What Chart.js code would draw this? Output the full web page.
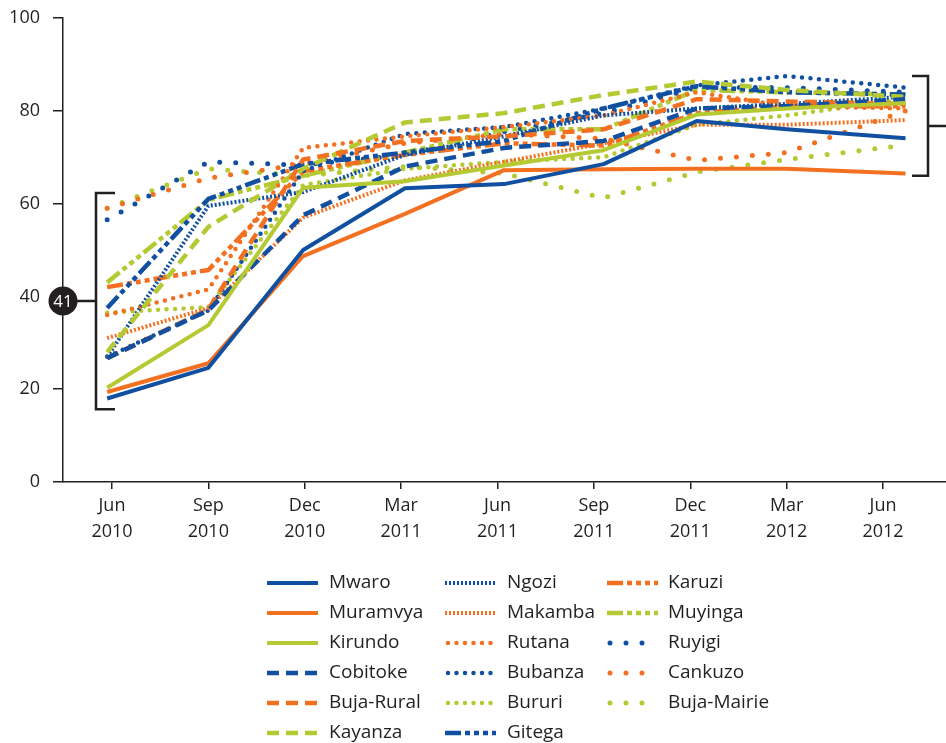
<!DOCTYPE html>
<html>
<head>
<meta charset="utf-8">
<script src="https://cdn.jsdelivr.net/npm/chart.js@4"></script>
<style>
  html, body { margin: 0; padding: 0; background: #fff; }
  canvas { display: block; }
</style>
</head>
<body>
<canvas id="chart" width="946" height="743"></canvas>
<script>
// survey rounds (months after Jun 2010, where each round sits on the axis)
const surveyMonths = [-0.15, 3, 5.95, 9.12, 12.2, 15.3, 18.2, 21.0, 24.7];
const tickMonths = [0, 3, 6, 9, 12, 15, 18, 21, 24];
const tickLabels = [
  ['Jun', '2010'], ['Sep', '2010'], ['Dec', '2010'], ['Mar', '2011'], ['Jun', '2011'],
  ['Sep', '2011'], ['Dec', '2011'], ['Mar', '2012'], ['Jun', '2012']
];

const mwaro      = [18, 24.6, 50, 63.3, 64.2, 68.5, 77.8, 76, 74.1];
const muramvya   = [19.4, 25.6, 48.7, 57.8, 67.2, 67.4, 67.5, 67.5, 66.5];
const kirundo    = [20.3, 33.8, 63.4, 64.8, 68.2, 71.5, 79.2, 80.5, 81.7];
const cobitoke   = [26.7, 37, 57.5, 68, 72, 73.5, 80.5, 81, 82.5];
const bujaRural  = [26.7, 37.2, 69.5, 73.5, 74.5, 76, 82.5, 82, 81.5];
const kayanza    = [28, 55, 67.5, 77.5, 79.5, 83.4, 86.3, 84.5, 83];
const ngozi      = [27, 59.5, 62.5, 70.5, 74.5, 79, 80.5, 81.5, 83];
const makamba    = [31, 37.5, 57, 65, 69, 73, 77, 77, 78];
const rutana     = [36, 41.5, 72, 74.5, 76.5, 79, 84, 81, 80.5];
const bubanza    = [27, 37, 67, 75, 76.5, 80.5, 85.5, 87.5, 85];
const bururi     = [36.5, 37.7, 64, 67.5, 69, 70, 77, 79, 82.5];
const gitega     = [37.5, 61, 68.5, 71, 73.5, 80.5, 85.3, 84, 83.5];
const karuzi     = [42, 45.7, 67, 70.5, 73, 72.5, 79.5, 81, 81];
const muyinga    = [43, 60.8, 66, 71, 76, 76, 84.5, 84, 83.5];
const ruyigi     = [56.5, 69, 68.3, 70.5, 75.5, 79.5, 85, 85, 84];
const cankuzo    = [59, 65.5, 68.5, 73, 75, 74, 69.3, 71, 80];
const bujaMairie = [59, 67.5, 66, 68, 66.5, 61.2, 66.8, 69.5, 72.6];

// bracket annotations (value ranges on the y axis)
const leftBracket = { from: 15.7, to: 62.3, label: '41' };
const rightBracket = { from: 66, to: 87.5 };

const BLUE = '#1150a0';
const ORANGE = '#f37021';
const GREEN = '#b5c932';
const INK = '#231f20';
const FONT = '"Open Sans", sans-serif';

const STYLES = {
  solid:   { dash: [], cap: 'butt', width: 4 },
  dash:    { dash: [12, 7], cap: 'butt', width: 4.5 },
  dashdot: { dash: [16, 4, 5, 4, 5, 4, 5, 4], cap: 'butt', width: 4.5 },
  dense:   { dash: [2, 2], cap: 'butt', width: 4 },
  medium:  { dash: [0, 8.5], cap: 'round', width: 4.5 },
  sparse:  { dash: [0, 16], cap: 'round', width: 5 },
};

const series = [
  ['Mwaro', mwaro, BLUE, 'solid'],
  ['Muramvya', muramvya, ORANGE, 'solid'],
  ['Kirundo', kirundo, GREEN, 'solid'],
  ['Cobitoke', cobitoke, BLUE, 'dash'],
  ['Buja-Rural', bujaRural, ORANGE, 'dash'],
  ['Kayanza', kayanza, GREEN, 'dash'],
  ['Ngozi', ngozi, BLUE, 'dense'],
  ['Makamba', makamba, ORANGE, 'dense'],
  ['Rutana', rutana, ORANGE, 'medium'],
  ['Bubanza', bubanza, BLUE, 'medium'],
  ['Bururi', bururi, GREEN, 'medium'],
  ['Gitega', gitega, BLUE, 'dashdot'],
  ['Karuzi', karuzi, ORANGE, 'dashdot'],
  ['Muyinga', muyinga, GREEN, 'dashdot'],
  ['Ruyigi', ruyigi, BLUE, 'sparse'],
  ['Cankuzo', cankuzo, ORANGE, 'sparse'],
  ['Buja-Mairie', bujaMairie, GREEN, 'sparse'],
];

const datasets = series.map(([label, values, color, style]) => ({
  label,
  data: values.map((v, i) => ({ x: surveyMonths[i], y: v })),
  borderColor: color,
  backgroundColor: color,
  borderWidth: STYLES[style].width,
  borderDash: STYLES[style].dash,
  borderCapStyle: STYLES[style].cap,
  borderJoinStyle: 'round',
  pointRadius: 0,
  tension: 0,
  fill: false,
}));

// legend in three columns, filled top to bottom
const columnLegend = {
  id: 'columnLegend',
  afterDraw(chart) {
    const ctx = chart.ctx;
    const colX = [267, 445, 607];
    const textX = [329, 507, 668];
    ctx.save();
    chart.data.datasets.forEach((ds, i) => {
      const col = Math.floor(i / 6), row = i % 6;
      const y = 583 + row * 30;
      ctx.beginPath();
      ctx.setLineDash(ds.borderDash);
      ctx.lineCap = ds.borderCapStyle;
      ctx.lineWidth = ds.borderWidth;
      ctx.strokeStyle = ds.borderColor;
      ctx.moveTo(colX[col] + (ds.borderCapStyle === 'round' ? 3 : 0), y);
      ctx.lineTo(colX[col] + 51, y);
      ctx.stroke();
      ctx.setLineDash([]);
      ctx.fillStyle = INK;
      ctx.font = '19px ' + FONT;
      ctx.textBaseline = 'middle';
      ctx.textAlign = 'left';
      ctx.fillText(ds.label, textX[col], y);
    });
    ctx.restore();
  }
};

const brackets = {
  id: 'brackets',
  afterDraw(chart) {
    const { ctx, chartArea, scales: { y } } = chart;
    ctx.save();
    ctx.strokeStyle = INK;
    ctx.lineWidth = 2.5;
    ctx.setLineDash([]);

    // left bracket with the circled value
    let top = y.getPixelForValue(leftBracket.to);
    let bot = y.getPixelForValue(leftBracket.from);
    let mid = (top + bot) / 2;
    const lx = chartArea.left + 33;
    ctx.beginPath();
    ctx.moveTo(lx + 19, top); ctx.lineTo(lx, top); ctx.lineTo(lx, bot); ctx.lineTo(lx + 19, bot);
    ctx.moveTo(lx, mid); ctx.lineTo(chartArea.left, mid);
    ctx.stroke();
    ctx.beginPath();
    ctx.fillStyle = INK;
    ctx.arc(chartArea.left, mid, 14.5, 0, Math.PI * 2);
    ctx.fill();
    ctx.fillStyle = '#fff';
    ctx.font = '17px ' + FONT;
    ctx.textAlign = 'center';
    ctx.textBaseline = 'middle';
    ctx.fillText(leftBracket.label, chartArea.left, mid + 1);

    // right bracket
    top = y.getPixelForValue(rightBracket.to);
    bot = y.getPixelForValue(rightBracket.from);
    mid = (top + bot) / 2;
    const rx = chartArea.right - 18;
    ctx.beginPath();
    ctx.moveTo(rx - 16, top); ctx.lineTo(rx, top); ctx.lineTo(rx, bot); ctx.lineTo(rx - 16, bot);
    ctx.moveTo(rx, mid); ctx.lineTo(chartArea.right, mid);
    ctx.stroke();
    ctx.restore();
  }
};

new Chart(document.getElementById('chart'), {
  type: 'line',
  data: { datasets },
  plugins: [columnLegend, brackets],
  options: {
    responsive: false,
    animation: false,
    devicePixelRatio: 1,
    layout: { padding: { top: 18, right: 0, left: 0, bottom: 0 } },
    plugins: { legend: { display: false }, tooltip: { enabled: false } },
    scales: {
      x: {
        type: 'linear',
        min: -1.525,
        max: 25.96,
        afterBuildTicks: (scale) => { scale.ticks = tickMonths.map(v => ({ value: v })); },
        afterFit: (scale) => { scale.height = 261; scale.paddingRight = 0; },
        border: { display: true, color: INK, width: 1.5 },
        grid: { display: true, drawOnChartArea: false, drawTicks: true, tickLength: 7, color: INK, lineWidth: 1.5 },
        ticks: {
          color: INK,
          font: { family: FONT, size: 18, lineHeight: 1.45 },
          padding: 4,
          maxRotation: 0,
          autoSkip: false,
          callback: (value) => tickLabels[tickMonths.indexOf(value)],
        },
      },
      y: {
        min: 0,
        max: 100,
        afterFit: (scale) => { scale.width = 63; scale.paddingTop = 0; scale.paddingBottom = 0; },
        border: { display: true, color: INK, width: 1.5 },
        grid: { display: true, drawOnChartArea: false, drawTicks: true, tickLength: 10, color: INK, lineWidth: 1.5 },
        ticks: { stepSize: 20, color: INK, font: { family: FONT, size: 18 }, padding: 13 },
      },
    },
  },
});
</script>
</body>
</html>
